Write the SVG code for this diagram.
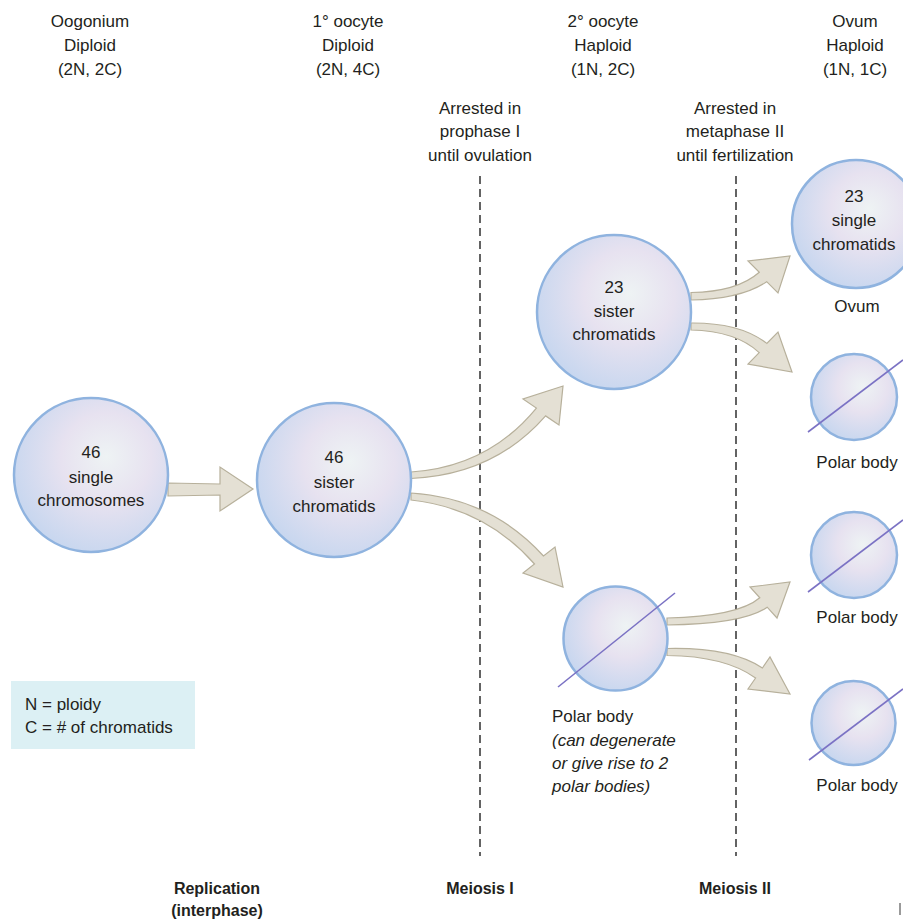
<svg xmlns="http://www.w3.org/2000/svg" width="903" height="922" viewBox="0 0 903 922">
<defs>
<radialGradient id="cell" cx="0.6" cy="0.4" r="0.65" fx="0.6" fy="0.38">
<stop offset="0" stop-color="#eef3f4"/>
<stop offset="0.45" stop-color="#e7e2f0"/>
<stop offset="1" stop-color="#c6d6ef"/>
</radialGradient>
<style>
.t{font-family:"Liberation Sans",Arial,sans-serif;font-size:17px;fill:#231f20;text-anchor:middle}
.l{text-anchor:start}
.i{font-style:italic}
.b{font-weight:bold;font-size:16px}
.c{fill:url(#cell);stroke:#8fb3df;stroke-width:2.5}
.x{stroke:#7b72c4;stroke-width:1.6}
.a{fill:#e4e0d4;stroke:#b7b09b;stroke-width:1.2;stroke-linejoin:miter}
.d{stroke:#222;stroke-width:1.4;stroke-dasharray:8 5;fill:none}
</style>
</defs>
<rect width="903" height="922" fill="#fff"/>

<g id="headers">
<text class="t" x="90" y="27">Oogonium</text>
<text class="t" x="90" y="51">Diploid</text>
<text class="t" x="90" y="75">(2N, 2C)</text>
<text class="t" x="348" y="27">1° oocyte</text>
<text class="t" x="348" y="51">Diploid</text>
<text class="t" x="348" y="75">(2N, 4C)</text>
<text class="t" x="603" y="27">2° oocyte</text>
<text class="t" x="603" y="51">Haploid</text>
<text class="t" x="603" y="75">(1N, 2C)</text>
<text class="t" x="855" y="27">Ovum</text>
<text class="t" x="855" y="51">Haploid</text>
<text class="t" x="855" y="75">(1N, 1C)</text>
<text class="t" x="480" y="114">Arrested in</text>
<text class="t" x="480" y="137">prophase I</text>
<text class="t" x="480" y="161">until ovulation</text>
<text class="t" x="735" y="114">Arrested in</text>
<text class="t" x="735" y="137">metaphase II</text>
<text class="t" x="735" y="161">until fertilization</text>
</g>

<g id="dividers">
<line class="d" x1="480" y1="176" x2="480" y2="856"/>
<line class="d" x1="736" y1="176" x2="736" y2="856"/>
</g>

<g id="connectors">
<path class="a" d="M168,483 L220,484 L220,467 L253,489 L220,511 L220,495 L168,496 Z"/>
<path class="a" d="M411,472 Q488,467 536.4,408.1 L523,399 L563,386 L559,425 L545.6,415.9 Q494,475 411,478.5 Z"/>
<path class="a" d="M411,493 Q491,498 543.5,556 L555,547 L563,587 L523,573 L534.5,564 Q485,508 411,500 Z"/>
<path class="a" d="M691,292.5 Q737,292 759.3,272.3 L748,261 L790,256 L778,293 L766.7,281.7 Q741,299 691,300 Z"/>
<path class="a" d="M691,323 Q740,322.5 766.8,343.4 L778,332 L792,372 L748,364 L759.2,352.6 Q736,331 691,330 Z"/>
<path class="a" d="M667,618 Q738,616.5 759.8,597.8 L750,587 L790,582 L777,618 L767.2,607.2 Q744,624 667,625 Z"/>
<path class="a" d="M667,648.5 Q731,647 762.4,668 L770,657 L790,694 L748,689 L755.6,678 Q725,656 667,655.5 Z"/>
</g>

<g id="oogonium">
<circle class="c" cx="91" cy="475" r="77"/>
<text class="t" x="91" y="458">46</text>
<text class="t" x="91" y="483">single</text>
<text class="t" x="91" y="506">chromosomes</text>
</g>

<g id="primary-oocyte">
<circle class="c" cx="334" cy="480" r="77"/>
<text class="t" x="334" y="463">46</text>
<text class="t" x="334" y="488">sister</text>
<text class="t" x="334" y="512">chromatids</text>
</g>

<g id="secondary-oocyte">
<circle class="c" cx="614" cy="312" r="77"/>
<text class="t" x="614" y="293">23</text>
<text class="t" x="614" y="317">sister</text>
<text class="t" x="614" y="340">chromatids</text>
</g>

<g id="ovum">
<circle class="c" cx="856" cy="224" r="64"/>
<text class="t" x="854" y="202">23</text>
<text class="t" x="854" y="226">single</text>
<text class="t" x="854" y="250">chromatids</text>
<text class="t" x="857" y="312">Ovum</text>
</g>

<g id="polar-body-1">
<circle class="c" cx="854" cy="397" r="43"/>
<line class="x" x1="808" y1="432" x2="903" y2="360"/>
<text class="t" x="857" y="468">Polar body</text>
</g>

<g id="polar-body-2">
<circle class="c" cx="854" cy="555" r="43"/>
<line class="x" x1="808" y1="592" x2="903" y2="520"/>
<text class="t" x="857" y="623">Polar body</text>
</g>

<g id="polar-body-3">
<circle class="c" cx="853.5" cy="723" r="42"/>
<line class="x" x1="809" y1="760" x2="903" y2="689"/>
<text class="t" x="857" y="791">Polar body</text>
</g>

<g id="first-polar-body">
<circle class="c" cx="615.5" cy="638.5" r="52"/>
<line class="x" x1="558" y1="687" x2="675" y2="593"/>
<text class="t l" x="552" y="722">Polar body</text>
<text class="t l i" x="552" y="746">(can degenerate</text>
<text class="t l i" x="552" y="769">or give rise to 2</text>
<text class="t l i" x="552" y="792">polar bodies)</text>
</g>

<g id="legend">
<rect x="11" y="681" width="184" height="68" fill="#dcf0f4"/>
<text class="t l" x="25" y="710">N = ploidy</text>
<text class="t l" x="25" y="733">C = # of chromatids</text>
</g>

<g id="phases">
<text class="t b" x="217" y="894">Replication</text>
<text class="t b" x="217" y="916">(interphase)</text>
<text class="t b" x="480" y="894">Meiosis I</text>
<text class="t b" x="735" y="894">Meiosis II</text>
</g>
<rect x="899" y="903" width="2" height="12" fill="#9a9a9a"/>
</svg>
